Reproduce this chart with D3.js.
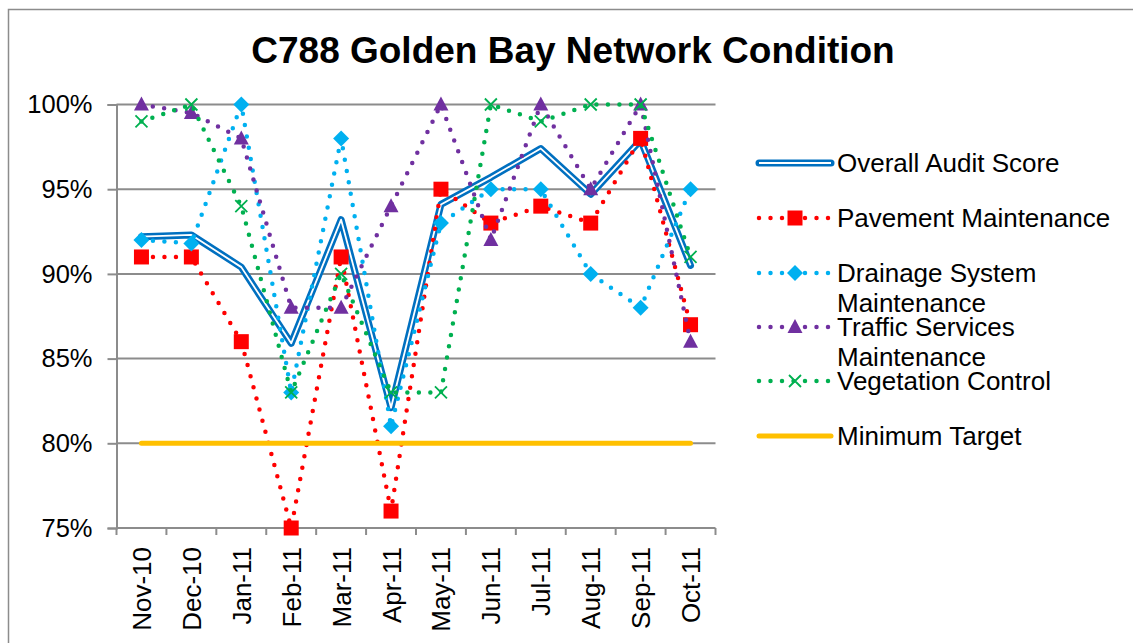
<!DOCTYPE html>
<html>
<head>
<meta charset="utf-8">
<script src="https://cdn.jsdelivr.net/npm/d3@7"></script>
<style>
  body { margin: 0; background: #fff; }
  svg { font-family: "Liberation Sans", Arial, sans-serif; }
</style>
</head>
<body>
<svg id="chart" width="1133" height="643"></svg>
<script>
// data
var months = ["Nov-10", "Dec-10", "Jan-11", "Feb-11", "Mar-11", "Apr-11",
  "May-11", "Jun-11", "Jul-11", "Aug-11", "Sep-11", "Oct-11"];
var overallScore = [92.2, 92.3, 90.4, 85.9, 93.2, 82.1, 94.1, 95.7, 97.4, 94.7, 97.9, 90.5];
var pavement = [91, 91, 86, 75, 91, 76, 95, 93, 94, 93, 98, 87];
var drainage = [92, 91.8, 100, 83, 98, 81, 93, 95, 95, 90, 88, 95];
var traffic = [100, 99.5, 98, 88, 88, 94, 100, 92, 100, 95, 100, 86];
var vegetation = [99, 100, 94, 83, 90, 83, 83, 100, 99, 100, 100, 91];
var minTarget = [80, 80, 80, 80, 80, 80, 80, 80, 80, 80, 80, 80];
var yTicks = [75, 80, 85, 90, 95, 100];

var series = [
  {name: ["Overall Audit Score"], values: overallScore, color: "#0070C0", kind: "double"},
  {name: ["Pavement Maintenance"], values: pavement, color: "#FF0000", kind: "dots", marker: "square"},
  {name: ["Drainage System", "Maintenance"], values: drainage, color: "#00B0F0", kind: "dots", marker: "diamond"},
  {name: ["Traffic Services", "Maintenance"], values: traffic, color: "#7030A0", kind: "dots", marker: "triangle"},
  {name: ["Vegetation Control"], values: vegetation, color: "#00B050", kind: "dots", marker: "cross"},
  {name: ["Minimum Target"], values: minTarget, color: "#FFC000", kind: "solid"}
];

var svg = d3.select("#chart");

// chart frame
svg.append("rect")
  .attr("x", 8.5).attr("y", 9.5)
  .attr("width", 1140).attr("height", 650)
  .attr("fill", "#fff")
  .attr("stroke", "#8c8c8c")
  .attr("stroke-width", 1.5);

svg.append("text")
  .attr("x", 573).attr("y", 63)
  .attr("text-anchor", "middle")
  .style("font-size", "37px")
  .style("font-weight", "bold")
  .text("C788 Golden Bay Network Condition");

var x = d3.scaleBand().domain(months).range([116.5, 715.5]);
var y = d3.scaleLinear().domain([75, 100]).range([528, 104.5]);

// gridlines
svg.append("g")
  .selectAll("line")
  .data(yTicks.slice(1))
  .enter().append("line")
    .attr("x1", 116.5).attr("x2", 715.5)
    .attr("y1", function(d) { return y(d); })
    .attr("y2", function(d) { return y(d); })
    .attr("stroke", "#8c8c8c")
    .attr("stroke-width", 2);

// y axis
var yAxis = svg.append("g")
  .attr("transform", "translate(116.5,0)")
  .call(d3.axisLeft(y).tickValues(yTicks).tickSize(9).tickPadding(15)
    .tickFormat(function(d) { return d + "%"; }));
yAxis.select(".domain").attr("stroke", "#8c8c8c").attr("stroke-width", 2);
yAxis.selectAll(".tick line").attr("stroke", "#8c8c8c").attr("stroke-width", 2);
yAxis.selectAll("text")
  .attr("fill", "#000")
  .style("font-size", "25.5px")
  .style("font-family", "Liberation Sans, Arial, sans-serif");

// x axis, ticks between categories
var xAxis = svg.append("g").attr("transform", "translate(0,528)");
xAxis.append("line")
  .attr("x1", 116.5).attr("x2", 715.5)
  .attr("stroke", "#8c8c8c").attr("stroke-width", 2);
xAxis.selectAll(".tk")
  .data(months.concat(["end"]))
  .enter().append("line")
    .attr("class", "tk")
    .attr("x1", function(d, i) { return i < months.length ? x(d) : x.range()[1]; })
    .attr("x2", function(d, i) { return i < months.length ? x(d) : x.range()[1]; })
    .attr("y1", 0).attr("y2", 7)
    .attr("stroke", "#8c8c8c").attr("stroke-width", 2);
xAxis.selectAll(".lbl")
  .data(months)
  .enter().append("text")
    .attr("class", "lbl")
    .attr("transform", function(d) {
      return "translate(" + (x(d) + x.bandwidth() / 2 + 9.5) + ",19) rotate(-90)";
    })
    .attr("text-anchor", "end")
    .style("font-size", "26px")
    .text(function(d) { return d; });

var line = d3.line()
  .x(function(d, i) { return x(months[i]) + x.bandwidth() / 2; })
  .y(function(d) { return y(d); });

function drawLine(g, s, path) {
  if (s.kind === "double") {
    g.append("path").attr("d", path).attr("fill", "none")
      .attr("stroke", s.color).attr("stroke-width", 7)
      .attr("stroke-linejoin", "round").attr("stroke-linecap", "round");
    g.append("path").attr("d", path).attr("fill", "none")
      .attr("stroke", "#fff").attr("stroke-width", 1.8)
      .attr("stroke-linejoin", "round");
  } else if (s.kind === "dots") {
    g.append("path").attr("d", path).attr("fill", "none")
      .attr("stroke", s.color).attr("stroke-width", 4.5)
      .attr("stroke-linecap", "round")
      .attr("stroke-dasharray", "0,11.5");
  } else {
    g.append("path").attr("d", path).attr("fill", "none")
      .attr("stroke", s.color).attr("stroke-width", 5)
      .attr("stroke-linecap", "round");
  }
}

function drawMarker(g, kind, color, cx, cy) {
  if (kind === "square") {
    g.append("rect").attr("x", cx - 7.5).attr("y", cy - 7.5)
      .attr("width", 15).attr("height", 15).attr("fill", color);
  } else if (kind === "diamond") {
    g.append("path").attr("d", "M" + cx + "," + (cy - 8) + "L" + (cx + 8) + "," + cy +
        "L" + cx + "," + (cy + 8) + "L" + (cx - 8) + "," + cy + "Z")
      .attr("fill", color);
  } else if (kind === "triangle") {
    g.append("path").attr("d", "M" + cx + "," + (cy - 8) + "L" + (cx + 7.5) + "," + (cy + 6) +
        "L" + (cx - 7.5) + "," + (cy + 6) + "Z")
      .attr("fill", color);
  } else if (kind === "cross") {
    g.append("path").attr("d", "M" + (cx - 6) + "," + (cy - 6) + "L" + (cx + 6) + "," + (cy + 6) +
        "M" + (cx + 6) + "," + (cy - 6) + "L" + (cx - 6) + "," + (cy + 6))
      .attr("stroke", color).attr("stroke-width", 1.8).attr("fill", "none");
  }
}

var plot = svg.append("g");
series.forEach(function(s) {
  var g = plot.append("g");
  drawLine(g, s, line(s.values));
  if (s.marker) {
    s.values.forEach(function(v, i) {
      drawMarker(g, s.marker, s.color, x(months[i]) + x.bandwidth() / 2, y(v));
    });
  }
});

// legend
var legendY = [163, 218, 273, 327, 381, 436];
var legend = svg.append("g");
series.forEach(function(s, i) {
  var g = legend.append("g");
  var ly = legendY[i];
  drawLine(g, s, "M" + 759 + "," + ly + "L" + 831 + "," + ly);
  if (s.marker) drawMarker(g, s.marker, s.color, 795, ly);
  var t = g.append("text")
    .attr("x", 837).attr("y", ly + 9)
    .style("font-size", "26px");
  s.name.forEach(function(n, j) {
    t.append("tspan").attr("x", 837).attr("dy", j === 0 ? 0 : 30).text(n);
  });
});
</script>
</body>
</html>
